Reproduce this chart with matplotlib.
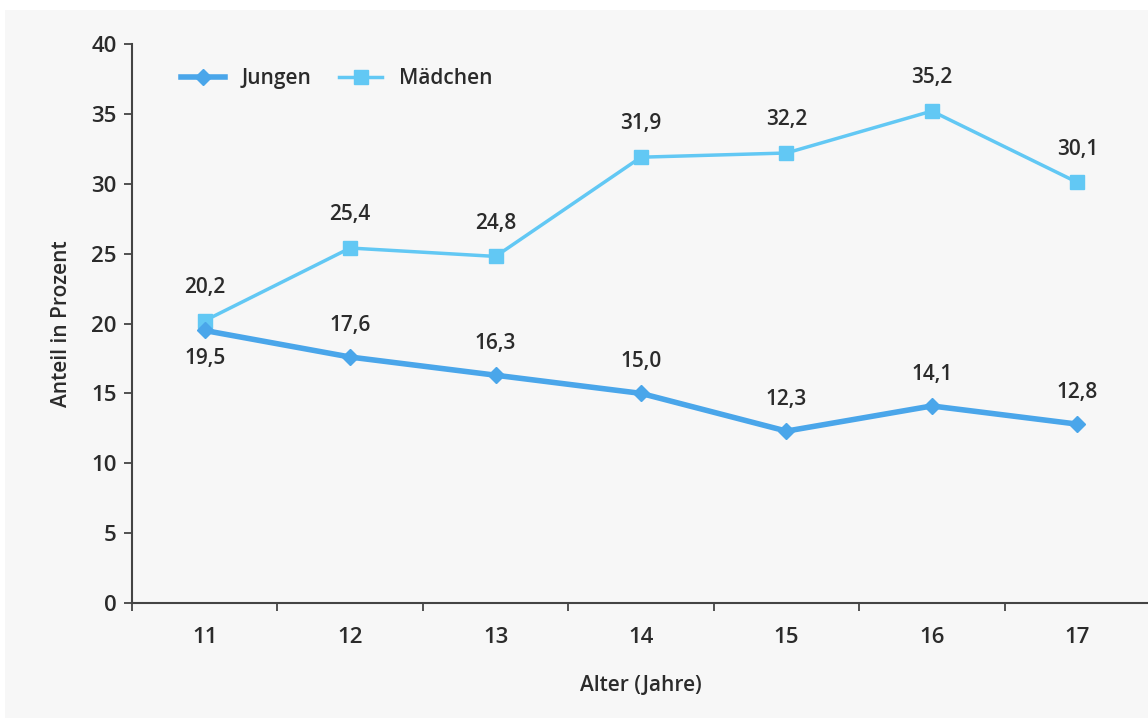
import matplotlib
matplotlib.use("Agg")
import matplotlib.pyplot as plt
from matplotlib.patches import Rectangle

ages = ["11", "12", "13", "14", "15", "16", "17"]
jungen = [19.5, 17.6, 16.3, 15.0, 12.3, 14.1, 12.8]
maedchen = [20.2, 25.4, 24.8, 31.9, 32.2, 35.2, 30.1]
jungen_labels = ["19,5", "17,6", "16,3", "15,0", "12,3", "14,1", "12,8"]
maedchen_labels = ["20,2", "25,4", "24,8", "31,9", "32,2", "35,2", "30,1"]
yticks = [0, 5, 10, 15, 20, 25, 30, 35, 40]

plt.rcParams['font.family'] = ['Open Sans', 'DejaVu Sans']
txt = '#2b2b2b'
c_j = '#4aa6ea'
c_m = '#62c8f4'

fig = plt.figure(figsize=(11.48, 7.18), dpi=100, facecolor='white')
bg = Rectangle((5/1148, 0), 1, 1 - 10/718, transform=fig.transFigure,
               facecolor='#f7f7f7', edgecolor='none', zorder=-10)
fig.add_artist(bg)
ax = fig.add_axes([132/1148, 1 - 603/718, 1018/1148, (603 - 44)/718])
ax.set_zorder(5)
ax.patch.set_visible(False)

x = list(range(len(ages)))
ax.plot(x, jungen, color=c_j, lw=4, marker='D', ms=8, label='Jungen', zorder=3)
ax.plot(x, maedchen, color=c_m, lw=2.5, marker='s', ms=10, label='Mädchen', zorder=2)

for i, (v, s) in enumerate(zip(maedchen, maedchen_labels)):
    ax.annotate(s, (i, v), xytext=(0, 24), textcoords='offset points', ha='center', va='center',
                fontsize=15, fontweight='semibold', color=txt)
for i, (v, s) in enumerate(zip(jungen, jungen_labels)):
    off = -20 if i == 0 else 23
    ax.annotate(s, (i, v), xytext=(0, off), textcoords='offset points', ha='center', va='center',
                fontsize=15, fontweight='semibold', color=txt)

ax.set_xlim(-0.5, len(ages) - 0.5)
ax.set_ylim(0, 40)
ax.set_yticks(yticks)
ax.set_yticklabels([str(t) for t in yticks])
ax.set_xticks([i + 0.5 for i in range(-1, len(ages))], minor=False)
ax.set_xticklabels([''] * (len(ages) + 1))
ax.set_xticks(x, minor=True)
ax.set_xticklabels(ages, minor=True)
ax.tick_params(axis='x', which='major', length=6, width=1.3, color='#444444', direction='out')
ax.tick_params(axis='x', which='minor', length=0, pad=17, labelsize=16, labelcolor=txt)
ax.tick_params(axis='y', length=6, width=1.3, color='#444444', labelsize=16, labelcolor=txt, pad=5)
for lab in ax.get_xticklabels(minor=True) + ax.get_yticklabels():
    lab.set_fontweight('semibold')

for s in ['top', 'right']:
    ax.spines[s].set_visible(False)
for s in ['left', 'bottom']:
    ax.spines[s].set_color('#444444')
    ax.spines[s].set_linewidth(1.5)

ax.set_xlabel('Alter (Jahre)', fontsize=15, fontweight='semibold', color=txt, labelpad=20)
ax.set_ylabel('Anteil in Prozent', fontsize=15, fontweight='semibold', color=txt, labelpad=14)

leg = ax.legend(loc='upper left', bbox_to_anchor=(0.03, 0.99), ncol=2, frameon=False,
                fontsize=15, handlelength=2.1, columnspacing=1.3, handletextpad=0.8)
for t in leg.get_texts():
    t.set_fontweight('semibold')
    t.set_color(txt)

fig.savefig('out.png', dpi=100, facecolor=fig.get_facecolor())
